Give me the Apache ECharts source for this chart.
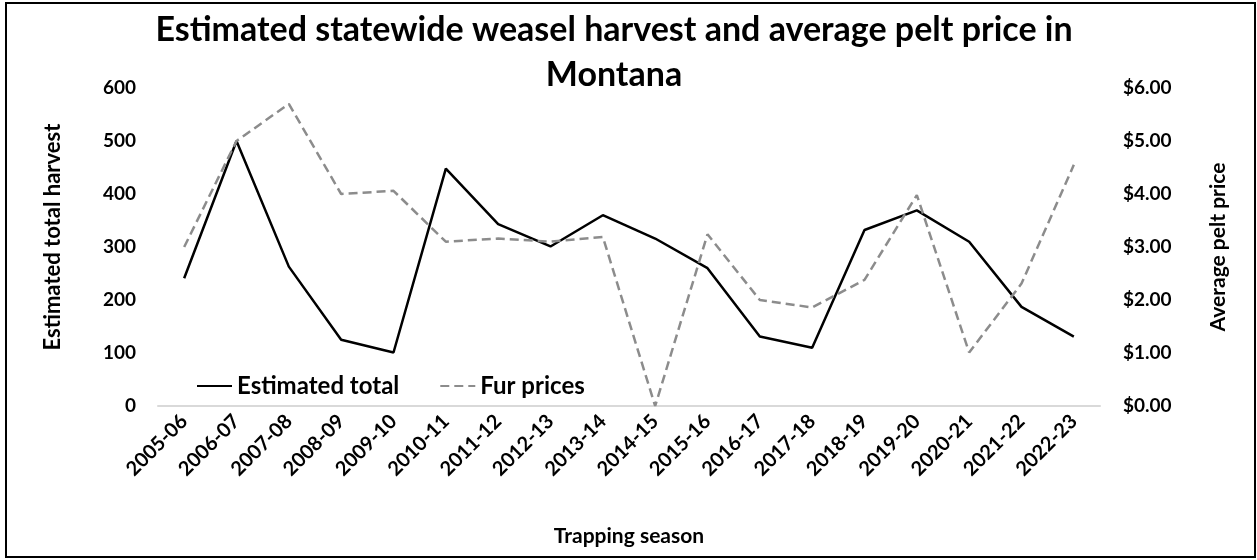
<!DOCTYPE html>
<html>
<head>
<meta charset="utf-8">
<script src="https://cdn.jsdelivr.net/npm/echarts@6/dist/echarts.min.js"></script>
<style>
  html, body { margin: 0; padding: 0; background: #fff; }
  #chart { width: 1257px; height: 560px; }
</style>
</head>
<body>
<div id="chart"></div>
<script>
// Trapping seasons on the category axis
const seasons = ['2005-06', '2006-07', '2007-08', '2008-09', '2009-10', '2010-11',
  '2011-12', '2012-13', '2013-14', '2014-15', '2015-16', '2016-17', '2017-18',
  '2018-19', '2019-20', '2020-21', '2021-22', '2022-23'];

// Estimated total weasel harvest per season
const harvest = [241, 500, 263, 125, 101, 448, 343, 301, 360, 316, 260, 131, 110, 332, 369, 310, 187, 131];

// Average pelt price (USD) per season
const furPrices = [3.00, 5.00, 5.70, 4.00, 4.06, 3.10, 3.16, 3.10, 3.19, 0.00, 3.24, 2.00, 1.86, 2.38, 3.98, 1.01, 2.31, 4.55];

// Tick values for the two value axes
const harvestTicks = [0, 100, 200, 300, 400, 500, 600];
const priceTicks = [0, 1, 2, 3, 4, 5, 6];

const FONT = 'Lato';
const bold = (size) => ({ color: '#000', fontFamily: FONT, fontWeight: 'bold', fontSize: size });

const chart = echarts.init(document.getElementById('chart'), null, { renderer: 'canvas' });

chart.setOption({
  backgroundColor: '#fff',
  animation: false,
  title: {
    text: 'Estimated statewide weasel harvest and average pelt price in\nMontana',
    left: 609,
    textAlign: 'center',
    top: 3,
    textStyle: Object.assign(bold(34), { lineHeight: 45 })
  },
  legend: {
    left: 191,
    top: 369,
    itemWidth: 35,
    itemHeight: 14,
    itemGap: 40,
    itemStyle: { opacity: 0 },
    textStyle: bold(24),
    data: ['Estimated total', 'Fur prices']
  },
  grid: { left: 158, right: 157, top: 88, bottom: 154, containLabel: false },
  xAxis: {
    type: 'category',
    data: seasons,
    boundaryGap: true,
    axisLine: { lineStyle: { color: '#d9d9d9', width: 2 } },
    axisTick: { show: false },
    axisLabel: Object.assign({ rotate: 45, margin: 12, interval: 0 }, bold(20)),
    name: 'Trapping season',
    nameLocation: 'middle',
    nameGap: 120,
    nameTextStyle: bold(21)
  },
  yAxis: [
    {
      type: 'value',
      min: harvestTicks[0],
      max: harvestTicks[harvestTicks.length - 1],
      interval: harvestTicks[1] - harvestTicks[0],
      axisLine: { show: false },
      axisTick: { show: false },
      splitLine: { show: false },
      axisLabel: Object.assign({ margin: 22 }, bold(19)),
      name: 'Estimated total harvest',
      nameLocation: 'middle',
      nameRotate: 90,
      nameGap: 94,
      nameTextStyle: Object.assign({ padding: [0, 0, 0, 20] }, bold(22))
    },
    {
      type: 'value',
      position: 'right',
      min: priceTicks[0],
      max: priceTicks[priceTicks.length - 1],
      interval: priceTicks[1] - priceTicks[0],
      axisLine: { show: false },
      axisTick: { show: false },
      splitLine: { show: false },
      axisLabel: Object.assign({ margin: 23, formatter: v => '$' + v.toFixed(2) }, bold(19)),
      name: 'Average pelt price',
      nameLocation: 'middle',
      nameRotate: 90,
      nameGap: 108,
      nameTextStyle: bold(21)
    }
  ],
  series: [
    {
      name: 'Estimated total',
      type: 'line',
      data: harvest,
      yAxisIndex: 0,
      symbol: 'none',
      lineStyle: { color: '#000', width: 2.5 },
      itemStyle: { color: '#000' }
    },
    {
      name: 'Fur prices',
      type: 'line',
      data: furPrices,
      yAxisIndex: 1,
      symbol: 'none',
      lineStyle: { color: '#8c8c8c', width: 2.5, type: [9, 5] },
      itemStyle: { color: '#8c8c8c' }
    }
  ],
  graphic: [
    {
      type: 'rect',
      shape: { x: 6, y: 3, width: 1249, height: 554 },
      style: { fill: 'none', stroke: '#000', lineWidth: 2 },
      silent: true
    }
  ]
});
</script>
</body>
</html>
